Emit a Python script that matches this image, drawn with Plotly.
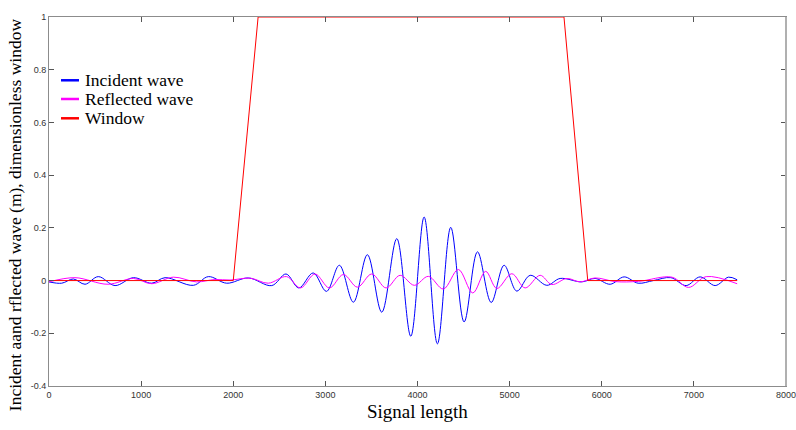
import plotly.graph_objects as go

# Incident wave (blue) - extrema
inc_x = [0, 138, 264, 391, 535, 717, 916, 1115, 1260, 1567, 1730, 1929, 2164, 2418, 2573, 2712,
         2868, 3012, 3152, 3304, 3456, 3612, 3775, 3927, 4072, 4216, 4361, 4506, 4651, 4800,
         4940, 5078, 5223, 5404, 5548, 5784, 5928, 6091, 6243, 6395, 6560, 6750, 6916, 7068,
         7231, 7376, 7470]
inc_y = [-0.005, -0.010, 0.006, -0.014, 0.015, -0.019, 0.011, -0.010, 0.011, -0.018, 0.015, -0.010,
         0.010, -0.019, 0.025, -0.028, 0.029, -0.041, 0.058, -0.082, 0.098, -0.120, 0.159, -0.211,
         0.241, -0.240, 0.202, -0.157, 0.109, -0.083, 0.058, -0.040, 0.020, -0.018, 0.008, -0.005,
         0.008, -0.014, 0.014, -0.010, 0.000, 0.011, -0.019, 0.014, -0.019, 0.013, 0.003]

# Reflected wave (magenta)
ref_x = [0, 282, 640, 916, 1115, 1350, 1600, 1800, 1965, 2186, 2380, 2580, 2730, 2888, 3044,
         3196, 3348, 3503, 3659, 3811, 3966, 4118, 4281, 4444, 4600, 4740, 4861, 5024, 5168,
         5331, 5458, 5621, 5766, 5928, 6150, 6400, 6761, 6942, 7134, 7470]
ref_y = [-0.005, 0.011, -0.014, 0.008, -0.012, 0.013, -0.005, 0.004, 0.002, 0.009, -0.010, 0.015,
         -0.028, 0.025, -0.028, 0.023, -0.025, 0.025, -0.028, 0.020, -0.018, 0.016, -0.032, 0.042,
         -0.047, 0.035, -0.030, 0.026, -0.028, 0.020, -0.015, 0.008, -0.005, 0.010, -0.004, -0.003,
         0.013, -0.026, 0.015, -0.012]

# Window (red)
win_x = [0, 2000, 2270, 5590, 5848, 7470]
win_y = [0, 0, 1, 1, 0, 0]

x_ticks = [0, 1000, 2000, 3000, 4000, 5000, 6000, 7000, 8000]
y_ticks = [-0.4, -0.2, 0, 0.2, 0.4, 0.6, 0.8, 1]
y_tick_text = ["-0.4", "-0.2", "0", "0.2", "0.4", "0.6", "0.8", "1"]

names = ["Incident wave", "Reflected wave", "Window"]
colors = ["#0000FF", "#FF00FF", "#FF0000"]

fig = go.Figure()
fig.add_trace(go.Scatter(x=inc_x, y=inc_y, mode="lines", name=names[0],
                         line=dict(color=colors[0], width=1, shape="spline", smoothing=1.0)))
fig.add_trace(go.Scatter(x=ref_x, y=ref_y, mode="lines", name=names[1],
                         line=dict(color=colors[1], width=1, shape="spline", smoothing=1.0)))
fig.add_trace(go.Scatter(x=win_x, y=win_y, mode="lines", name=names[2],
                         line=dict(color=colors[2], width=1)))

serif = "Liberation Serif, Times New Roman, serif"
axis_common = dict(showgrid=False, zeroline=False, showline=True, linecolor="#8c8c8c",
                   linewidth=1, mirror="ticks", ticks="inside", ticklen=5, tickcolor="#555555",
                   automargin=False, ticklabeloverflow="allow",
                   tickfont=dict(family="Liberation Sans, Arial", size=9, color="#333333"))

# legend drawn as key lines + labels inside the plot (top-left)
legend_y = [0.8285, 0.7778, 0.7255]
shapes = []
annotations = []
for n, c, ly in zip(names, colors, legend_y):
    shapes.append(dict(type="line", xref="paper", yref="paper", x0=0.0163, x1=0.0407,
                       y0=ly, y1=ly, line=dict(color=c, width=2.5)))
    annotations.append(dict(text=n, xref="paper", yref="paper", x=0.0465, y=ly,
                            xanchor="left", yanchor="middle", showarrow=False,
                            font=dict(family=serif, size=17.5, color="black")))
# light, thicker right frame edge
shapes.append(dict(type="line", xref="paper", yref="paper", x0=1, x1=1, y0=0, y1=1,
                   line=dict(color="#b0b0b0", width=2)))

annotations += [
    dict(text="Signal length", xref="paper", yref="paper", x=0.5, y=0,
         xanchor="center", yanchor="middle", yshift=-25, showarrow=False,
         font=dict(family=serif, size=19, color="black")),
    dict(text="Incident aand rflected wave (m), dimensionless window", xref="paper",
         yref="paper", x=0, y=0.463, xanchor="center", yanchor="middle", xshift=-34,
         textangle=-90, showarrow=False,
         font=dict(family=serif, size=17.5, color="black")),
]

fig.update_layout(
    width=796, height=430,
    margin=dict(l=49, r=10, t=17, b=44),
    plot_bgcolor="white", paper_bgcolor="white",
    showlegend=False,
    xaxis=dict(range=[0, 8000], tickvals=x_ticks, **axis_common),
    yaxis=dict(range=[-0.4, 1], tickvals=y_ticks, ticktext=y_tick_text, **axis_common),
    shapes=shapes,
    annotations=annotations,
)

fig.write_html("out.html", config={"displayModeBar": False},
               post_script="document.body.style.margin='0px';")
